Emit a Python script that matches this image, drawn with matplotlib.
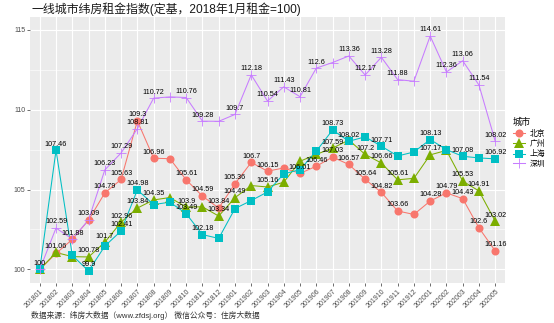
import matplotlib
matplotlib.use('Agg')
import matplotlib.pyplot as plt
from matplotlib.lines import Line2D

plt.rcParams['font.family'] = ['Liberation Sans', 'Noto Sans CJK SC']

months = ['201801', '201802', '201803', '201804', '201805', '201806', '201807',
          '201808', '201809', '201810', '201811', '201812', '201901', '201902',
          '201903', '201904', '201905', '201906', '201907', '201908', '201909',
          '201910', '201911', '201912', '202001', '202002', '202003', '202004',
          '202005']

beijing = [100, 101.0, 101.88, 103.09, 104.79, 105.63, 109.3, 106.96, 106.93,
           105.61, 104.59, 103.84, 105.36, 106.7, 106.15, 106.35, 106.01, 106.46,
           107.03, 106.57, 105.64, 104.82, 103.66, 103.44, 104.28, 104.79, 104.43,
           102.6, 101.16]
guangzhou = [100, 101.06, 100.8, 100.78, 101.7, 102.96, 103.84, 104.35, 104.5,
             103.9, 103.92, 103.34, 104.49, 105.25, 105.16, 105.46, 106.77, 107.2,
             107.59, 108.1, 107.2, 106.66, 105.61, 105.7, 107.17, 107.45, 105.53,
             104.91, 103.02]
shanghai = [100, 107.46, 100.88, 99.9, 101.46, 102.41, 104.98, 104.06, 104.21,
            103.49, 102.18, 101.94, 103.81, 104.31, 104.85, 105.98, 106.25, 107.4,
            108.73, 108.02, 108.3, 107.71, 107.1, 107.35, 108.13, 107.5, 107.08,
            106.98, 106.92]
shenzhen = [100, 102.59, 101.9, 103.1, 106.23, 107.29, 108.81, 110.72, 110.8,
            110.76, 109.28, 109.27, 109.7, 112.18, 110.54, 111.43, 110.81, 112.6,
            112.95, 113.36, 112.17, 113.28, 111.88, 111.78, 114.61, 112.36, 113.06,
            111.54, 108.02]

# which points carry a value label (the rest were dropped for overlap)
beijing_lab = [0, 2, 3, 4, 5, 6, 7, 9, 10, 11, 12, 13, 14, 16, 17, 18, 19, 20,
               21, 22, 24, 25, 26, 27, 28]
guangzhou_lab = [1, 3, 4, 5, 6, 7, 9, 11, 12, 14, 18, 20, 21, 22, 24, 26, 27, 28]
shanghai_lab = [1, 3, 5, 6, 9, 10, 18, 19, 21, 24, 26, 28]
shenzhen_lab = [1, 4, 5, 6, 7, 9, 10, 12, 13, 14, 15, 16, 17, 19, 20, 21, 22, 24,
                25, 26, 27, 28]

cities = ['北京', '广州', '上海', '深圳']
colors = ['#F8766D', '#7CAE00', '#00BFC4', '#C77CFF']
markers = ['o', '^', 's', '+']
msizes = [5.8, 6.6, 5.4, 7]

W, H = 554, 323
fig = plt.figure(figsize=(W / 100, H / 100), dpi=100)
ax = fig.add_axes([30 / W, 1 - 283 / H, 475 / W, 266 / H])
ax.set_facecolor('#EBEBEB')

x = list(range(len(months)))
series = [beijing, guangzhou, shanghai, shenzhen]
labs = [beijing_lab, guangzhou_lab, shanghai_lab, shenzhen_lab]

for s, c in zip(series, colors):
    ax.plot(x, s, color=c, lw=0.75, zorder=3)
for s, c, m, ms in zip(series, colors, markers, msizes):
    ax.plot(x, s, ls='none', marker=m, color=c, ms=ms, mew=0.6 if m == '+' else 0,
            zorder=4)
for s, idx in zip(series, labs):
    for i in idx:
        ax.annotate(f'{s[i]:g}', (i, s[i]), xytext=(0, 4.4),
                    textcoords='offset points', ha='center', va='center',
                    fontsize=5.2, color='black', zorder=5)

ax.set_xlim(-0.6, len(months) - 0.4)
ax.set_ylim(99.15, 115.8)
ax.set_xticks(x)
ax.set_xticklabels(months, rotation=45, ha='right', rotation_mode='anchor')
ax.set_yticks([100, 105, 110, 115])
ax.set_yticks([102.5, 107.5, 112.5], minor=True)
ax.tick_params(axis='both', which='major', labelsize=5, labelcolor='#4D4D4D',
               length=2, width=0.5, color='#333333', pad=1.5)
ax.tick_params(axis='y', which='minor', length=0)
ax.grid(which='major', color='white', lw=0.8)
ax.grid(which='minor', axis='y', color='white', lw=0.4)
ax.set_axisbelow(True)
for sp in ax.spines.values():
    sp.set_visible(False)

fig.text(32 / W, 1 - 9 / H, '一线城市纬房租金指数(定基，2018年1月租金=100)',
         fontsize=8.6, va='center', ha='left', color='#1A1A1A')
fig.text(31 / W, 1 - 315 / H,
         '数据来源：纬房大数据（www.zfdsj.org） 微信公众号：住房大数据',
         fontsize=5.6, va='center', ha='left', color='#333333')

handles = [Line2D([], [], color=c, marker=m, ms=ms, lw=0.75,
                  mew=0.6 if m == '+' else 0)
           for c, m, ms in zip(colors, markers, msizes)]
leg = fig.legend(handles, cities, title='城市', loc='upper left',
                 bbox_to_anchor=(513 / W, 1 - 118 / H), frameon=False,
                 fontsize=5.6, title_fontsize=6.6, handlelength=1.6,
                 handletextpad=0.5, labelspacing=0.3, borderaxespad=0,
                 borderpad=0)
leg._legend_box.align = 'left'

fig.savefig('out.png', dpi=100)
